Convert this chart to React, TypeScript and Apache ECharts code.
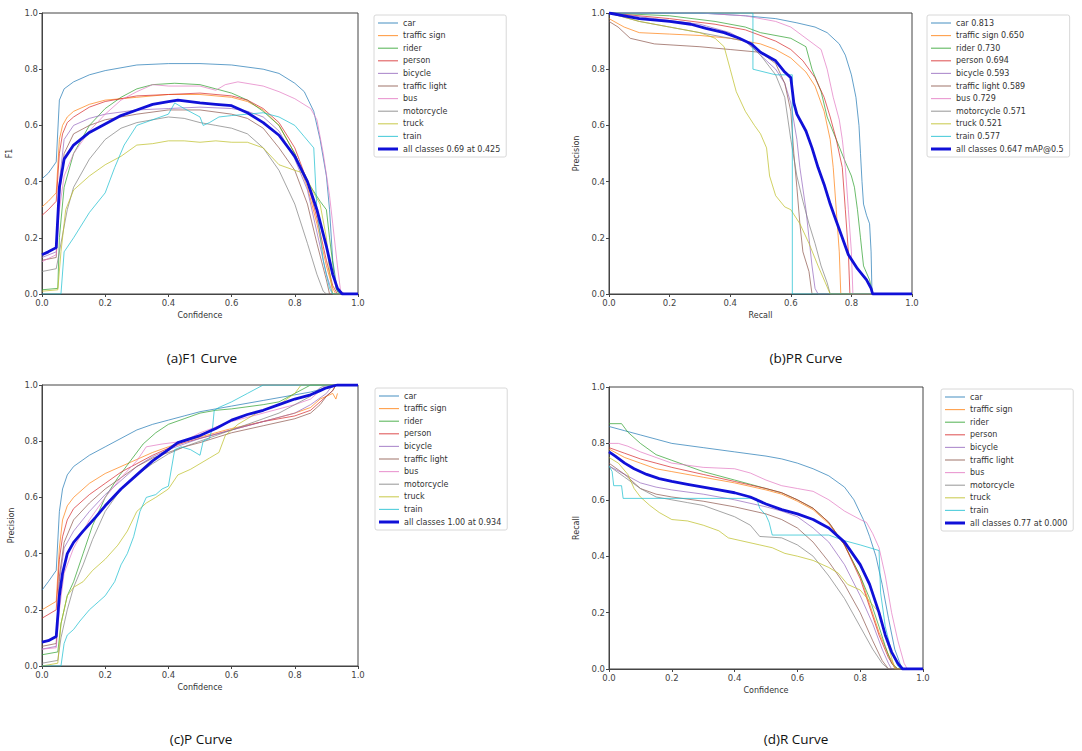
import React, { useEffect, useRef } from "react";
import * as echarts from "echarts";

// ---------- class names & colours ----------
const CLASSES = ["car", "traffic sign", "rider", "person", "bicycle", "traffic light", "bus", "motorcycle", "truck", "train"];
const CLASS_COLORS = ["#1f77b4", "#ff7f0e", "#2ca02c", "#d62728", "#9467bd", "#8c564b", "#e377c2", "#7f7f7f", "#bcbd22", "#17becf"];
const PR_AP = ["0.813", "0.650", "0.730", "0.694", "0.593", "0.589", "0.729", "0.571", "0.521", "0.577"];
const ALL_LABELS = ["all classes 0.69 at 0.425", "all classes 0.647 mAP@0.5", "all classes 1.00 at 0.934", "all classes 0.77 at 0.000"];

// ---------- (a) F1 vs confidence ----------
const f1Car = [[0,0.41],[0.02,0.43],[0.045,0.47],[0.055,0.69],[0.07,0.73],[0.1,0.755],[0.15,0.78],[0.2,0.795],[0.3,0.815],[0.4,0.82],[0.5,0.82],[0.6,0.815],[0.7,0.8],[0.75,0.785],[0.8,0.75],[0.83,0.72],[0.86,0.65],[0.88,0.55],[0.9,0.42],[0.91,0.3],[0.92,0.12],[0.935,0.01],[0.95,0],[1,0]];
const f1Sign = [[0,0.31],[0.02,0.33],[0.045,0.36],[0.055,0.55],[0.065,0.6],[0.08,0.63],[0.1,0.65],[0.15,0.675],[0.2,0.69],[0.3,0.7],[0.4,0.71],[0.5,0.71],[0.6,0.7],[0.65,0.685],[0.7,0.655],[0.75,0.6],[0.8,0.5],[0.84,0.38],[0.87,0.25],[0.9,0.1],[0.92,0.02],[0.93,0],[1,0]];
const f1Rider = [[0,0.015],[0.05,0.02],[0.055,0.2],[0.07,0.38],[0.1,0.5],[0.15,0.6],[0.2,0.66],[0.25,0.7],[0.3,0.73],[0.35,0.745],[0.42,0.75],[0.5,0.745],[0.55,0.73],[0.6,0.715],[0.65,0.69],[0.7,0.65],[0.75,0.6],[0.8,0.5],[0.84,0.4],[0.88,0.33],[0.9,0.3],[0.91,0.2],[0.93,0.02],[0.94,0],[1,0]];
const f1Person = [[0,0.28],[0.02,0.3],[0.045,0.33],[0.055,0.5],[0.065,0.57],[0.08,0.61],[0.1,0.63],[0.15,0.665],[0.2,0.685],[0.3,0.705],[0.4,0.71],[0.5,0.715],[0.6,0.705],[0.65,0.69],[0.7,0.66],[0.75,0.61],[0.8,0.52],[0.84,0.4],[0.87,0.27],[0.9,0.12],[0.92,0.03],[0.935,0],[1,0]];
const f1Bicycle = [[0,0.13],[0.045,0.15],[0.055,0.4],[0.07,0.55],[0.1,0.6],[0.15,0.625],[0.2,0.64],[0.3,0.655],[0.4,0.66],[0.5,0.665],[0.6,0.66],[0.65,0.65],[0.7,0.63],[0.75,0.58],[0.8,0.48],[0.84,0.37],[0.87,0.22],[0.9,0.07],[0.92,0],[1,0]];
const f1Light = [[0,0.12],[0.045,0.13],[0.055,0.35],[0.07,0.5],[0.1,0.57],[0.15,0.6],[0.2,0.62],[0.3,0.64],[0.4,0.655],[0.5,0.655],[0.6,0.64],[0.65,0.625],[0.7,0.59],[0.75,0.52],[0.8,0.44],[0.84,0.32],[0.87,0.18],[0.9,0.05],[0.91,0],[1,0]];
const f1Bus = [[0,0.115],[0.045,0.14],[0.055,0.3],[0.07,0.42],[0.1,0.5],[0.15,0.58],[0.2,0.64],[0.25,0.69],[0.3,0.72],[0.35,0.745],[0.4,0.74],[0.5,0.74],[0.55,0.725],[0.58,0.745],[0.62,0.755],[0.7,0.74],[0.75,0.72],[0.8,0.695],[0.85,0.66],[0.87,0.62],[0.89,0.5],[0.91,0.35],[0.92,0.25],[0.935,0.1],[0.945,0.01],[0.96,0],[1,0]];
const f1Motor = [[0,0.08],[0.045,0.09],[0.055,0.15],[0.08,0.3],[0.1,0.38],[0.15,0.48],[0.2,0.55],[0.25,0.59],[0.3,0.61],[0.4,0.63],[0.45,0.625],[0.5,0.61],[0.55,0.6],[0.6,0.59],[0.65,0.57],[0.7,0.52],[0.75,0.44],[0.8,0.32],[0.84,0.18],[0.87,0.07],[0.89,0.01],[0.9,0],[1,0]];
const f1Truck = [[0,0.01],[0.05,0.015],[0.06,0.15],[0.075,0.3],[0.1,0.37],[0.15,0.42],[0.2,0.46],[0.25,0.49],[0.3,0.53],[0.35,0.535],[0.4,0.545],[0.45,0.545],[0.5,0.54],[0.55,0.545],[0.6,0.54],[0.65,0.54],[0.7,0.52],[0.75,0.46],[0.8,0.44],[0.83,0.43],[0.86,0.36],[0.88,0.32],[0.9,0.2],[0.91,0.08],[0.92,0],[1,0]];
const f1Train = [[0,0],[0.06,0],[0.07,0.15],[0.1,0.2],[0.15,0.29],[0.2,0.36],[0.23,0.45],[0.26,0.53],[0.3,0.6],[0.35,0.62],[0.4,0.64],[0.42,0.68],[0.45,0.66],[0.5,0.63],[0.51,0.6],[0.53,0.61],[0.56,0.63],[0.6,0.635],[0.65,0.64],[0.7,0.645],[0.75,0.63],[0.8,0.6],[0.83,0.56],[0.86,0.52],[0.87,0.3],[0.89,0.12],[0.91,0.02],[0.92,0],[1,0]];
const f1All = [[0,0.14],[0.02,0.15],[0.045,0.165],[0.055,0.38],[0.07,0.48],[0.1,0.53],[0.15,0.575],[0.2,0.605],[0.25,0.635],[0.3,0.655],[0.35,0.675],[0.4,0.685],[0.43,0.69],[0.5,0.68],[0.55,0.675],[0.6,0.67],[0.65,0.645],[0.7,0.61],[0.75,0.565],[0.8,0.49],[0.84,0.4],[0.87,0.3],[0.9,0.17],[0.92,0.07],[0.935,0.02],[0.95,0],[1,0]];

// ---------- (b) precision vs recall ----------
const prCar = [[0,1],[0.3,1],[0.45,0.99],[0.55,0.98],[0.62,0.965],[0.68,0.95],[0.72,0.93],[0.76,0.89],[0.78,0.85],[0.8,0.78],[0.815,0.7],[0.825,0.6],[0.83,0.5],[0.835,0.4],[0.84,0.32],[0.85,0.28],[0.86,0.25],[0.865,0.15],[0.868,0],[1,0]];
const prSign = [[0,0.98],[0.05,0.95],[0.1,0.93],[0.2,0.925],[0.3,0.92],[0.4,0.91],[0.5,0.89],[0.55,0.87],[0.6,0.84],[0.65,0.79],[0.68,0.74],[0.71,0.65],[0.73,0.55],[0.74,0.45],[0.75,0.3],[0.76,0.15],[0.765,0],[1,0]];
const prRider = [[0,1],[0.2,0.99],[0.35,0.97],[0.45,0.95],[0.5,0.93],[0.6,0.91],[0.65,0.88],[0.67,0.8],[0.7,0.72],[0.72,0.63],[0.75,0.55],[0.78,0.47],[0.8,0.42],[0.81,0.38],[0.82,0.3],[0.83,0.2],[0.84,0.1],[0.86,0.05],[0.87,0],[1,0]];
const prPerson = [[0,1],[0.2,0.98],[0.35,0.96],[0.45,0.94],[0.55,0.9],[0.6,0.87],[0.64,0.83],[0.68,0.77],[0.71,0.7],[0.73,0.63],[0.75,0.55],[0.77,0.45],[0.78,0.3],[0.79,0.15],[0.795,0],[1,0]];
const prBicycle = [[0,1],[0.15,0.98],[0.3,0.96],[0.4,0.93],[0.45,0.9],[0.5,0.85],[0.55,0.8],[0.58,0.75],[0.6,0.68],[0.62,0.55],[0.63,0.45],[0.65,0.3],[0.66,0.2],[0.67,0.1],[0.68,0.02],[0.69,0],[1,0]];
const prLight = [[0,0.97],[0.03,0.95],[0.07,0.91],[0.15,0.89],[0.3,0.88],[0.4,0.87],[0.5,0.86],[0.55,0.82],[0.58,0.75],[0.6,0.65],[0.61,0.5],[0.62,0.38],[0.63,0.25],[0.64,0.15],[0.66,0.08],[0.67,0],[1,0]];
const prBus = [[0,1],[0.3,1],[0.45,0.99],[0.55,0.97],[0.6,0.95],[0.65,0.91],[0.7,0.87],[0.72,0.8],[0.74,0.7],[0.76,0.62],[0.77,0.55],[0.78,0.45],[0.79,0.3],[0.8,0.15],[0.805,0],[1,0]];
const prMotor = [[0,1],[0.1,0.97],[0.2,0.95],[0.3,0.93],[0.4,0.91],[0.45,0.9],[0.5,0.85],[0.55,0.78],[0.58,0.7],[0.6,0.55],[0.62,0.42],[0.64,0.33],[0.66,0.25],[0.68,0.18],[0.7,0.1],[0.72,0.04],[0.73,0],[1,0]];
const prTruck = [[0,1],[0.1,0.97],[0.2,0.95],[0.3,0.93],[0.35,0.91],[0.38,0.88],[0.4,0.8],[0.42,0.72],[0.45,0.65],[0.48,0.6],[0.5,0.57],[0.52,0.52],[0.53,0.42],[0.55,0.35],[0.58,0.31],[0.6,0.3],[0.63,0.25],[0.66,0.18],[0.69,0.1],[0.71,0.05],[0.73,0],[1,0]];
const prTrain = [[0,1],[0.475,1],[0.475,0.8],[0.55,0.78],[0.605,0.78],[0.605,0],[1,0]];
const prAll = [[0,1],[0.05,0.99],[0.1,0.98],[0.2,0.97],[0.27,0.96],[0.32,0.945],[0.38,0.93],[0.43,0.91],[0.47,0.89],[0.5,0.86],[0.55,0.83],[0.58,0.79],[0.6,0.77],[0.61,0.68],[0.62,0.64],[0.65,0.58],[0.67,0.52],[0.69,0.45],[0.71,0.39],[0.73,0.32],[0.75,0.26],[0.77,0.2],[0.79,0.14],[0.82,0.09],[0.85,0.05],[0.865,0.02],[0.87,0],[1,0]];

// ---------- (c) precision vs confidence ----------
const pCar = [[0,0.27],[0.02,0.3],[0.045,0.34],[0.055,0.55],[0.065,0.63],[0.08,0.68],[0.1,0.71],[0.15,0.75],[0.2,0.78],[0.25,0.81],[0.3,0.84],[0.35,0.86],[0.4,0.875],[0.45,0.89],[0.5,0.905],[0.55,0.915],[0.6,0.925],[0.7,0.945],[0.8,0.965],[0.85,0.975],[0.9,0.99],[0.93,1],[1,1]];
const pSign = [[0,0.2],[0.045,0.23],[0.055,0.42],[0.065,0.52],[0.08,0.57],[0.1,0.6],[0.15,0.65],[0.2,0.685],[0.25,0.71],[0.3,0.735],[0.35,0.76],[0.4,0.78],[0.45,0.8],[0.5,0.815],[0.55,0.83],[0.6,0.845],[0.7,0.87],[0.8,0.9],[0.85,0.92],[0.88,0.95],[0.9,0.96],[0.92,0.97],[0.93,0.95],[0.935,0.97]];
const pRider = [[0,0.04],[0.05,0.05],[0.06,0.15],[0.08,0.25],[0.1,0.3],[0.13,0.4],[0.16,0.5],[0.2,0.6],[0.24,0.67],[0.28,0.73],[0.32,0.79],[0.36,0.83],[0.4,0.86],[0.45,0.88],[0.5,0.9],[0.55,0.91],[0.6,0.915],[0.7,0.93],[0.75,0.94],[0.8,0.97],[0.85,1],[1,1]];
const pPerson = [[0,0.17],[0.045,0.2],[0.055,0.38],[0.065,0.46],[0.08,0.52],[0.1,0.56],[0.15,0.61],[0.2,0.65],[0.25,0.69],[0.3,0.72],[0.35,0.75],[0.4,0.775],[0.45,0.795],[0.5,0.81],[0.55,0.825],[0.6,0.84],[0.7,0.87],[0.8,0.89],[0.85,0.91],[0.88,0.94],[0.9,0.96],[0.92,0.98],[0.93,1],[1,1]];
const pBicycle = [[0,0.06],[0.045,0.07],[0.055,0.3],[0.07,0.42],[0.1,0.48],[0.15,0.55],[0.2,0.61],[0.25,0.66],[0.3,0.71],[0.35,0.745],[0.4,0.77],[0.45,0.79],[0.5,0.81],[0.6,0.84],[0.7,0.87],[0.8,0.9],[0.85,0.93],[0.9,0.97],[0.92,1],[1,1]];
const pLight = [[0,0.07],[0.045,0.08],[0.055,0.32],[0.07,0.44],[0.1,0.52],[0.15,0.58],[0.2,0.63],[0.25,0.67],[0.3,0.71],[0.35,0.74],[0.4,0.76],[0.45,0.78],[0.5,0.795],[0.6,0.83],[0.7,0.855],[0.8,0.88],[0.85,0.9],[0.88,0.93],[0.9,0.96],[0.92,0.98],[0.93,1],[1,1]];
const pBus = [[0,0.06],[0.045,0.065],[0.055,0.2],[0.07,0.33],[0.1,0.42],[0.15,0.52],[0.2,0.6],[0.25,0.67],[0.3,0.73],[0.33,0.78],[0.38,0.79],[0.45,0.8],[0.5,0.83],[0.55,0.85],[0.6,0.87],[0.7,0.9],[0.8,0.93],[0.85,0.95],[0.88,0.98],[0.9,1],[1,1]];
const pMotor = [[0,0.01],[0.05,0.02],[0.06,0.1],[0.08,0.2],[0.1,0.28],[0.13,0.36],[0.16,0.45],[0.2,0.55],[0.25,0.63],[0.3,0.68],[0.35,0.72],[0.4,0.755],[0.45,0.78],[0.5,0.8],[0.55,0.82],[0.6,0.84],[0.7,0.88],[0.75,0.9],[0.8,0.93],[0.85,0.96],[0.88,0.99],[0.9,1],[1,1]];
const pTruck = [[0,0],[0.05,0.01],[0.06,0.15],[0.08,0.25],[0.1,0.28],[0.13,0.3],[0.16,0.34],[0.2,0.38],[0.24,0.43],[0.27,0.48],[0.3,0.55],[0.33,0.58],[0.36,0.6],[0.4,0.63],[0.43,0.68],[0.47,0.7],[0.5,0.72],[0.53,0.74],[0.56,0.76],[0.58,0.82],[0.62,0.86],[0.68,0.9],[0.75,0.93],[0.8,0.97],[0.82,1],[1,1]];
const pTrain = [[0,0],[0.06,0],[0.07,0.08],[0.08,0.11],[0.1,0.13],[0.12,0.16],[0.15,0.2],[0.18,0.23],[0.2,0.25],[0.23,0.3],[0.25,0.36],[0.27,0.4],[0.29,0.46],[0.31,0.55],[0.33,0.6],[0.36,0.61],[0.38,0.63],[0.4,0.64],[0.42,0.77],[0.44,0.78],[0.47,0.77],[0.5,0.75],[0.51,0.8],[0.53,0.81],[0.54,0.85],[0.545,0.91],[0.56,0.92],[0.6,0.94],[0.65,0.97],[0.7,1],[1,1]];
const pAll = [[0,0.085],[0.02,0.09],[0.045,0.105],[0.055,0.25],[0.065,0.33],[0.08,0.4],[0.1,0.44],[0.13,0.48],[0.17,0.53],[0.2,0.57],[0.25,0.63],[0.3,0.68],[0.35,0.73],[0.4,0.77],[0.43,0.795],[0.5,0.82],[0.55,0.845],[0.6,0.875],[0.65,0.895],[0.7,0.91],[0.75,0.93],[0.8,0.95],[0.85,0.965],[0.88,0.98],[0.9,0.99],[0.934,1],[1,1]];

// ---------- (d) recall vs confidence ----------
const rCar = [[0,0.86],[0.05,0.845],[0.1,0.83],[0.15,0.815],[0.2,0.8],[0.3,0.785],[0.4,0.77],[0.5,0.755],[0.55,0.745],[0.6,0.73],[0.65,0.71],[0.7,0.685],[0.75,0.645],[0.78,0.6],[0.81,0.53],[0.83,0.47],[0.85,0.4],[0.87,0.3],[0.89,0.18],[0.91,0.07],[0.93,0.01],[0.94,0],[1,0]];
const rSign = [[0,0.78],[0.05,0.75],[0.1,0.73],[0.15,0.71],[0.2,0.7],[0.3,0.68],[0.4,0.66],[0.5,0.635],[0.55,0.62],[0.6,0.595],[0.65,0.565],[0.7,0.515],[0.75,0.44],[0.8,0.33],[0.83,0.23],[0.86,0.13],[0.89,0.05],[0.91,0.01],[0.92,0],[1,0]];
const rRider = [[0,0.87],[0.04,0.87],[0.06,0.84],[0.1,0.8],[0.15,0.76],[0.2,0.74],[0.3,0.7],[0.4,0.67],[0.45,0.655],[0.5,0.64],[0.55,0.625],[0.6,0.6],[0.65,0.57],[0.7,0.52],[0.75,0.44],[0.8,0.33],[0.83,0.25],[0.86,0.15],[0.88,0.08],[0.9,0.02],[0.92,0],[1,0]];
const rPerson = [[0,0.785],[0.05,0.765],[0.1,0.745],[0.15,0.73],[0.2,0.715],[0.3,0.69],[0.4,0.665],[0.5,0.64],[0.55,0.625],[0.6,0.6],[0.65,0.57],[0.7,0.52],[0.75,0.44],[0.8,0.32],[0.83,0.22],[0.86,0.12],[0.89,0.04],[0.91,0.005],[0.92,0],[1,0]];
const rBicycle = [[0,0.72],[0.05,0.69],[0.1,0.66],[0.15,0.645],[0.2,0.635],[0.3,0.62],[0.4,0.6],[0.5,0.575],[0.55,0.56],[0.6,0.54],[0.65,0.5],[0.7,0.45],[0.75,0.37],[0.8,0.26],[0.84,0.16],[0.87,0.07],[0.89,0.02],[0.9,0],[1,0]];
const rLight = [[0,0.73],[0.05,0.69],[0.1,0.64],[0.15,0.62],[0.2,0.61],[0.3,0.595],[0.4,0.575],[0.5,0.55],[0.55,0.53],[0.6,0.5],[0.65,0.45],[0.7,0.38],[0.75,0.3],[0.8,0.2],[0.84,0.1],[0.87,0.03],[0.89,0],[1,0]];
const rBus = [[0,0.8],[0.03,0.8],[0.06,0.79],[0.1,0.77],[0.15,0.75],[0.2,0.73],[0.3,0.715],[0.4,0.71],[0.45,0.695],[0.5,0.67],[0.55,0.65],[0.6,0.64],[0.65,0.63],[0.7,0.6],[0.75,0.56],[0.8,0.53],[0.82,0.52],[0.84,0.48],[0.86,0.43],[0.88,0.33],[0.9,0.2],[0.92,0.1],[0.94,0.02],[0.95,0],[1,0]];
const rMotor = [[0,0.72],[0.05,0.68],[0.1,0.64],[0.15,0.61],[0.2,0.6],[0.25,0.59],[0.3,0.58],[0.35,0.56],[0.4,0.54],[0.45,0.51],[0.48,0.47],[0.55,0.465],[0.6,0.44],[0.65,0.4],[0.7,0.33],[0.75,0.25],[0.8,0.15],[0.84,0.07],[0.87,0.02],[0.89,0],[1,0]];
const rTruck = [[0,0.75],[0.03,0.73],[0.06,0.69],[0.08,0.64],[0.1,0.61],[0.13,0.58],[0.16,0.555],[0.2,0.53],[0.25,0.525],[0.3,0.51],[0.35,0.49],[0.38,0.465],[0.42,0.455],[0.48,0.44],[0.52,0.43],[0.56,0.41],[0.6,0.4],[0.65,0.385],[0.7,0.36],[0.73,0.34],[0.76,0.3],[0.8,0.28],[0.83,0.24],[0.86,0.2],[0.88,0.12],[0.9,0.04],[0.91,0],[1,0]];
const rTrain = [[0,0.72],[0.01,0.7],[0.015,0.65],[0.04,0.65],[0.045,0.605],[0.47,0.605],[0.48,0.57],[0.5,0.545],[0.51,0.52],[0.52,0.475],[0.7,0.475],[0.75,0.455],[0.8,0.44],[0.86,0.42],[0.865,0.27],[0.88,0.15],[0.9,0.06],[0.92,0.01],[0.93,0],[1,0]];
const rAll = [[0,0.77],[0.02,0.755],[0.05,0.73],[0.08,0.71],[0.12,0.69],[0.16,0.675],[0.2,0.665],[0.25,0.655],[0.3,0.645],[0.35,0.635],[0.4,0.625],[0.45,0.61],[0.5,0.585],[0.55,0.565],[0.6,0.55],[0.65,0.53],[0.7,0.5],[0.75,0.45],[0.8,0.37],[0.83,0.3],[0.86,0.2],[0.88,0.12],[0.9,0.06],[0.92,0.02],[0.935,0],[1,0]];

const F1_CLASS = [f1Car, f1Sign, f1Rider, f1Person, f1Bicycle, f1Light, f1Bus, f1Motor, f1Truck, f1Train];
const PR_CLASS = [prCar, prSign, prRider, prPerson, prBicycle, prLight, prBus, prMotor, prTruck, prTrain];
const P_CLASS = [pCar, pSign, pRider, pPerson, pBicycle, pLight, pBus, pMotor, pTruck, pTrain];
const R_CLASS = [rCar, rSign, rRider, rPerson, rBicycle, rLight, rBus, rMotor, rTruck, rTrain];

const FONT = "DejaVu Sans";
const ALL_COLOR = "#1010d8";
const THIN_ICON = "path://M0,0H20V1.1H0Z";
const THICK_ICON = "path://M0,0H20V3H0Z";

const PANELS = [
  { grid: { left: 42, top: 13, width: 316, height: 281 }, xName: "Confidence", yName: "F1", yGap: 29, classes: F1_CLASS, all: f1All, names: CLASSES, allName: ALL_LABELS[0], legend: { left: 374, top: 15 } },
  { grid: { left: 609, top: 13, width: 303, height: 281 }, xName: "Recall", yName: "Precision", yGap: 29, classes: PR_CLASS, all: prAll, names: CLASSES.map((c, i) => c + " " + PR_AP[i]), allName: ALL_LABELS[1], legend: { left: 927, top: 15 } },
  { grid: { left: 42, top: 385, width: 316, height: 281 }, xName: "Confidence", yName: "Precision", yGap: 27, classes: P_CLASS, all: pAll, names: CLASSES, allName: ALL_LABELS[2], legend: { left: 375, top: 388 } },
  { grid: { left: 609, top: 387, width: 314, height: 282 }, xName: "Confidence", yName: "Recall", yGap: 29, classes: R_CLASS, all: rAll, names: CLASSES, allName: ALL_LABELS[3], legend: { left: 941, top: 389 } },
];

const CAPTIONS = [
  { text: "(a)F1 Curve", x: 202, y: 358 },
  { text: "(b)PR Curve", x: 806, y: 358 },
  { text: "(c)P Curve", x: 201, y: 739 },
  { text: "(d)R Curve", x: 796, y: 739 },
];

function buildOption() {
  const grid: any[] = [];
  const xAxis: any[] = [];
  const yAxis: any[] = [];
  const series: any[] = [];
  const legend: any[] = [];
  const axisCommon = {
    type: "value",
    min: 0,
    max: 1,
    interval: 0.2,
    nameLocation: "middle",
    nameTextStyle: { fontFamily: FONT, fontSize: 8, color: "#333" },
    axisLine: { show: true, onZero: false, lineStyle: { color: "#444", width: 1 } },
    axisTick: { show: true, length: 3, lineStyle: { color: "#444" } },
    axisLabel: { fontFamily: FONT, fontSize: 8.5, color: "#444", margin: 4, formatter: (v: number) => v.toFixed(1) },
    splitLine: { show: false },
  };
  PANELS.forEach((p, gi) => {
    grid.push({ ...p.grid, show: true, borderColor: "#444", borderWidth: 1, backgroundColor: "#fff" });
    xAxis.push({ ...axisCommon, gridIndex: gi, name: p.xName, nameGap: 17 });
    yAxis.push({ ...axisCommon, gridIndex: gi, name: p.yName, nameGap: p.yGap });
    p.classes.forEach((data, ci) => {
      series.push({
        type: "line",
        name: p.names[ci],
        xAxisIndex: gi,
        yAxisIndex: gi,
        data,
        symbol: "none",
        silent: true,
        color: CLASS_COLORS[ci],
        lineStyle: { width: 1, color: CLASS_COLORS[ci], opacity: 0.7 },
      });
    });
    series.push({
      type: "line",
      name: p.allName,
      xAxisIndex: gi,
      yAxisIndex: gi,
      data: p.all,
      symbol: "none",
      silent: true,
      color: ALL_COLOR,
      lineStyle: { width: 2.8, color: ALL_COLOR },
      z: 5,
    });
    legend.push({
      orient: "vertical",
      left: p.legend.left,
      top: p.legend.top,
      data: [
        ...p.names.map((n, ci) => ({ name: n, icon: THIN_ICON, itemStyle: { color: CLASS_COLORS[ci], opacity: 0.75 } })),
        { name: p.allName, icon: THICK_ICON, itemStyle: { color: ALL_COLOR } },
      ],
      symbolKeepAspect: true,
      selectedMode: false,
      itemWidth: 20,
      itemHeight: 9,
      itemGap: 4.6,
      padding: [4, 6, 4, 4],
      borderColor: "#d8d8d8",
      borderWidth: 1,
      borderRadius: 2,
      backgroundColor: "#fff",
      textStyle: { fontFamily: FONT, fontSize: 8, color: "#333" },
    });
  });
  const graphic = CAPTIONS.map((c) => ({
    type: "text",
    x: c.x,
    y: c.y,
    style: { text: c.text, fontFamily: "Open Sans", fontSize: 13.5, fill: "#111", textAlign: "center", textVerticalAlign: "middle" },
  }));
  return { animation: false, backgroundColor: "#fff", grid, xAxis, yAxis, series, legend, graphic };
}

export default function App() {
  const ref = useRef<HTMLDivElement>(null);
  useEffect(() => {
    if (!ref.current) return;
    const chart = echarts.init(ref.current, undefined, { renderer: "svg" });
    chart.setOption(buildOption() as any);
    return () => chart.dispose();
  }, []);
  return <div ref={ref} style={{ position: "absolute", left: 0, top: 0, width: 1082, height: 751, background: "#fff" }} />;
}
